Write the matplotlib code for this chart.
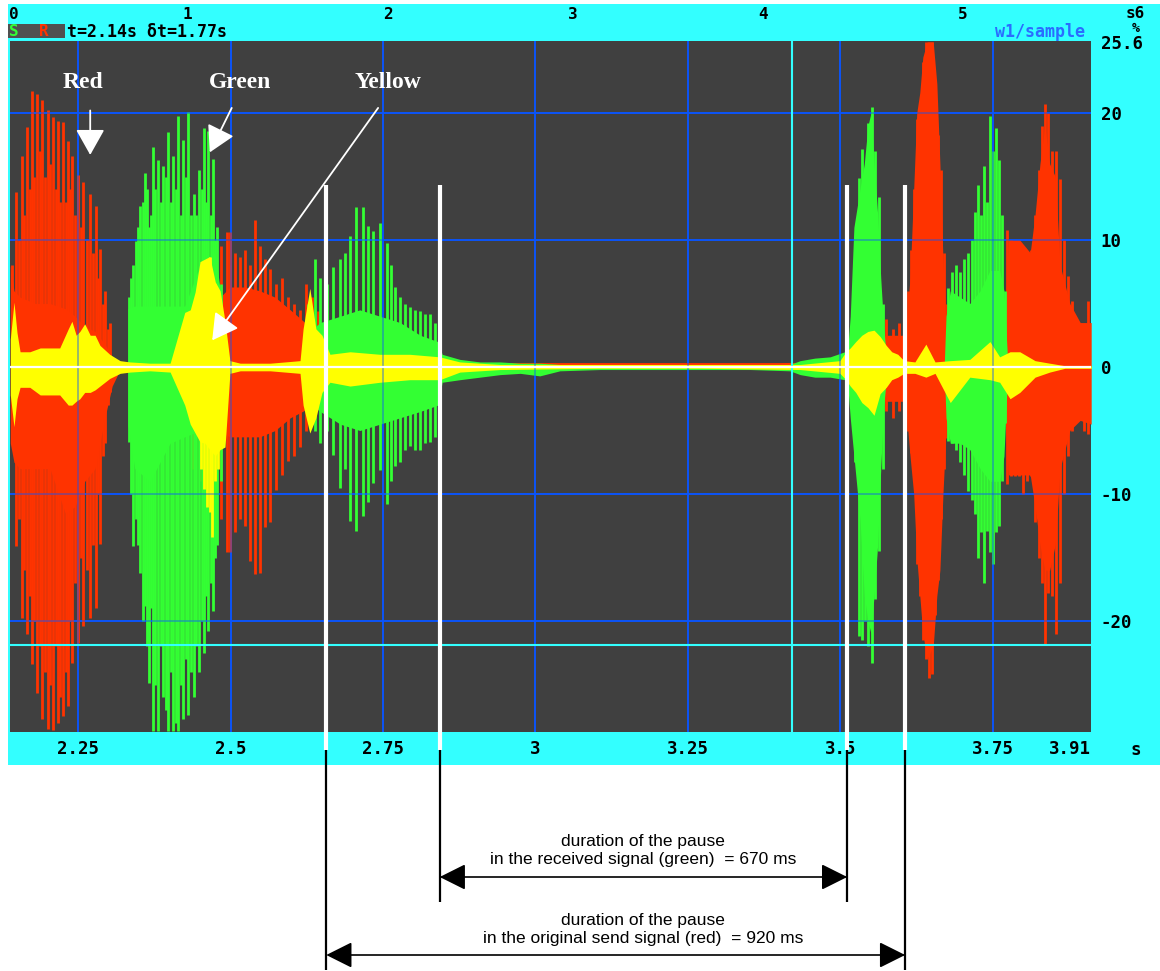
import matplotlib.pyplot as plt
from matplotlib.patches import Rectangle, ArrowStyle

# red = sent signal, green = received, yellow = residual (values in %)
red_t = [2.142, 2.148, 2.153, 2.158, 2.161, 2.166, 2.171, 2.175, 2.178, 2.183,
         2.188, 2.191, 2.196, 2.201, 2.204, 2.209, 2.214, 2.217, 2.220, 2.225,
         2.230, 2.234, 2.237, 2.240, 2.245, 2.250, 2.255, 2.258, 2.265, 2.270,
         2.275, 2.280, 2.283, 2.286, 2.291, 2.294, 2.299, 2.302,
         2.439, 2.450, 2.463, 2.475, 2.484, 2.494, 2.499, 2.507, 2.516, 2.524,
         2.532, 2.540, 2.548, 2.557, 2.565, 2.575, 2.584, 2.594, 2.604, 2.614,
         2.624, 2.634, 2.643,
         3.575, 3.586, 3.596,
         3.611, 3.616, 3.621, 3.625, 3.630, 3.635, 3.640, 3.645, 3.650, 3.655,
         3.660, 3.665, 3.670, 3.675,
         3.773, 3.780, 3.786, 3.793, 3.799, 3.806, 3.812, 3.819, 3.825, 3.830,
         3.835, 3.840, 3.847, 3.853, 3.860, 3.866, 3.873, 3.880, 3.886, 3.893,
         3.899, 3.906]
red_hi = [8, 13.8, 10, 16.6, 12, 18.9, 14, 21.7, 15, 21.5,
          17, 21.0, 15, 20.2, 16, 19.7, 14, 19.4, 13, 19.3,
          13, 17.8, 14, 16.6, 12, 15.1, 11, 14.6, 10, 13.6,
          9, 12.7, 7, 9.3, 5, 6, 3, 3.5,
          5, 6, 7, 8.5, 9.5, 10.6, 10.6, 9, 8.7, 9.2,
          8, 11.6, 9.5, 8.5, 7.7, 6.5, 7, 5.5, 5, 4.5,
          6.5, 5.5, 4.4,
          3.8, 3, 3.5,
          6, 9.2, 14, 19.5, 19.5, 24, 25.6, 25.6, 25.6, 22,
          18.3, 15.5, 9, 5,
          10.8, 10, 9.5, 9.2, 9.2, 8.5, 9.2, 12, 15.5, 19,
          20.7, 20, 17, 17, 14.8, 10, 7.2, 5.2, 3.4, 3.4,
          3.4, 5.2]
red_lo = [-6, -14.1, -12, -19.8, -16, -21, -18, -23.4, -20, -25.7,
          -22, -27.7, -24, -28.5, -25, -28.6, -22, -28, -26, -27.5,
          -24, -26.7, -20, -23.3, -17, -21.7, -15, -20.4, -16, -19.8,
          -14, -19, -10, -13.9, -7, -6, -3, -2,
          -8, -9, -10, -12, -12, -14.6, -14.6, -13, -12, -12.5,
          -15.3, -16.3, -16.2, -12.6, -12.2, -9.7, -8.5, -7.4, -7, -6.3,
          -5, -4.5, -3,
          -3.5, -4, -3.5,
          -5, -6.8, -7.8, -15.5, -18, -21.5, -23, -24.5, -24.2, -19.5,
          -16.8, -12, -8, -5.6,
          -9.2, -8.6, -8.6, -8.6, -10, -9, -8.6, -12.2, -15, -17,
          -21.8, -17.8, -18, -21, -17, -10, -7, -5, -4.2, -4.2,
          -5, -5.3]

red_body_t = [2.139, 2.145, 2.155, 2.180, 2.204, 2.229, 2.245, 2.261, 2.278, 2.294,
              2.306, 2.316, 2.327, 2.425, 2.434, 2.499, 2.524, 2.548, 2.573, 2.598,
              2.622, 2.650, 2.657, 2.700, 2.850, 3.000, 3.200, 3.400, 3.500, 3.557,
              3.573, 3.589, 3.602,
              3.607, 3.614, 3.620, 3.625, 3.630, 3.635, 3.642, 3.652, 3.658, 3.663,
              3.668, 3.673, 3.679,
              3.700, 3.760,
              3.770, 3.775, 3.794, 3.811, 3.819, 3.827, 3.835, 3.843, 3.852, 3.860,
              3.876, 3.893, 3.911]
red_body_hi = [8, 6, 5.5, 5, 5, 4.6, 4, 3.2, 2.8, 1.8,
               0.8, 0.3, 0.2, 0.2, 3, 6.3, 6.3, 6.0, 5.5, 4.5,
               3.5, 2.5, 0.3, 0.3, 0.35, 0.35, 0.35, 0.35, 0.4, 1.5,
               2.5, 2.5, 2.5,
               3, 7, 14, 20, 21.6, 24.4, 25.6, 25.6, 22.3, 16,
               8.5, 3, 1,
               1, 2,
               4, 10, 10, 9, 12, 16, 19, 16, 15, 8,
               5, 3.5, 3.5]
red_body_lo = [-6, -7.5, -8, -8, -8, -11.5, -11, -9, -8, -4,
               -1.5, -0.5, -0.2, -0.2, -4, -5.5, -5.5, -5.5, -5, -4,
               -3.4, -2.5, -0.3, -0.1, -0.1, -0.1, -0.1, -0.1, -0.3, -1.5,
               -2.7, -2.7, -2.7,
               -3, -7, -10, -15, -18, -21, -23, -22, -18, -16,
               -10, -5, -1,
               -1, -2,
               -4, -8.5, -8.5, -8.5, -11, -14, -16, -16, -14, -8,
               -5, -4.2, -4.5]

green_t = [2.334, 2.337, 2.340, 2.345, 2.348, 2.352, 2.357, 2.360, 2.363, 2.366,
           2.370, 2.373, 2.377, 2.381, 2.386, 2.389, 2.394, 2.398, 2.402, 2.406,
           2.411, 2.414, 2.419, 2.422, 2.427, 2.430, 2.435, 2.440, 2.443, 2.448,
           2.453, 2.457, 2.460, 2.463, 2.468, 2.471, 2.475, 2.478, 2.484,
           2.627, 2.639, 2.647, 2.658, 2.668, 2.680, 2.688, 2.696, 2.706, 2.717,
           2.725, 2.734, 2.745, 2.757, 2.763, 2.770, 2.778, 2.786, 2.794, 2.802,
           2.811, 2.819, 2.827, 2.835,
           3.519, 3.524, 3.530, 3.535, 3.540, 3.545, 3.552, 3.557, 3.563, 3.570,
           3.676, 3.683, 3.689, 3.696, 3.702, 3.709, 3.716, 3.720, 3.725, 3.730,
           3.735, 3.740, 3.745, 3.750, 3.755, 3.760, 3.765, 3.770]
green_hi = [5.5, 7, 8, 9.9, 11, 12.7, 13, 15.3, 14, 11,
            12, 17.3, 14, 16.3, 13, 15.8, 15, 18.5, 13, 16.6,
            14, 19.8, 12, 17.9, 15, 20.1, 12, 13.6, 12, 15.5,
            14, 18.8, 13, 18.6, 12, 16.4, 10, 11, 6.5,
            5, 8.5, 7, 6.5, 7.9, 8.5, 9, 10.3, 12.6, 12.6,
            11.1, 10.7, 11.3, 9.8, 8, 6.3, 5.5, 5, 4.7, 4.5,
            4.4, 4.2, 4.2, 3.5,
            4.2, 9, 14.9, 17.2, 15, 19.2, 20.5, 17, 13.4, 5,
            6.2, 7.5, 8, 7.5, 8.5, 9, 10, 12.2, 14.3, 12,
            15.8, 13, 19.8, 17, 18.8, 16.3, 12, 6]
green_lo = [-5.9, -10, -14.1, -12, -14, -16.2, -20, -18.8, -22, -24.9,
            -19, -28.7, -25, -28.7, -22, -26, -27, -28.7, -24, -28.7,
            -28, -28.7, -25, -27.7, -23, -27.4, -24, -26, -22, -24,
            -20, -22.5, -18, -20.8, -17, -19.2, -15, -14, -9,
            -4, -5, -6, -5, -6.9, -9.5, -8, -12.1, -12.9, -11.7,
            -10.6, -9.1, -8.1, -10.8, -9, -7.8, -7.5, -6.5, -6.2, -6.5,
            -6.5, -6, -5.9, -5.5,
            -4.2, -7.5, -21.2, -21.5, -20, -22, -23.3, -18.3, -14.5, -8,
            -5.8, -6, -6.5, -7.5, -8.5, -9.8, -10.5, -11.6, -15, -13,
            -17, -12.9, -14.6, -15.5, -13, -12.5, -9, -4.4]

green_body_t = [2.332, 2.343, 2.368, 2.401, 2.425, 2.450, 2.475, 2.486, 2.493, 2.496,
                2.619, 2.622, 2.647, 2.680, 2.712, 2.745, 2.778, 2.811, 2.840, 2.847,
                2.876, 2.909, 2.942, 2.975, 3.007, 3.040, 3.106, 3.188, 3.270, 3.352,
                3.417, 3.434, 3.458, 3.483, 3.507,
                3.512, 3.516, 3.522, 3.532, 3.539, 3.545, 3.550, 3.555, 3.561, 3.566,
                3.571, 3.576, 3.580,
                3.670, 3.673, 3.680, 3.696, 3.712, 3.729, 3.745, 3.761, 3.768, 3.774,
                3.778]
green_body_hi = [4.6, 4.8, 4.8, 4.8, 4.8, 8, 9, 5, 0.3, 0,
                 0, 2.5, 3.5, 4, 4.5, 4, 3.5, 2.5, 2, 1,
                 0.6, 0.4, 0.4, 0.3, 0.3, 0.2, 0.1, 0.1, 0.1, 0.1,
                 0.2, 0.5, 0.7, 0.8, 1.2,
                 1.5, 4, 11, 14, 16, 19, 20, 16, 12, 7,
                 3, 0.5, 0,
                 0, 4, 6, 5.5, 5, 6, 7.6, 7.6, 6, 0.5,
                 0]
green_body_lo = [-4.6, -8, -9, -6, -5.5, -5, -5, -4, -0.3, 0,
                 0, -2.5, -3.5, -4.5, -5, -4.5, -4, -3.5, -3, -1.2,
                 -1.0, -0.8, -0.6, -0.5, -0.7, -0.3, -0.2, -0.2, -0.2, -0.2,
                 -0.3, -0.6, -0.8, -0.8, -1,
                 -1.5, -4, -7, -12, -18, -20, -21, -18, -14, -8,
                 -3, -0.5, 0,
                 0, -4, -6, -6, -6.5, -8, -9, -9, -7, -0.5,
                 0]

yellow_t = [2.139, 2.145, 2.150, 2.155, 2.171, 2.188, 2.204, 2.220, 2.234, 2.240,
            2.247, 2.253, 2.261, 2.270, 2.278, 2.286, 2.302, 2.319, 2.335, 2.368,
            2.401, 2.425, 2.434, 2.442, 2.450, 2.458, 2.466, 2.475, 2.483, 2.491,
            2.499, 2.516, 2.565, 2.614, 2.619, 2.630, 2.640, 2.650, 2.663, 2.696,
            2.745, 2.794, 2.843, 2.876, 2.942, 3.106, 3.270, 3.434, 3.499, 3.509,
            3.516, 3.525, 3.535, 3.545, 3.555, 3.565, 3.575, 3.584, 3.594, 3.604,
            3.622, 3.640, 3.655, 3.680, 3.712, 3.745, 3.761, 3.778, 3.794, 3.819,
            3.843, 3.868, 3.911]
yellow_hi = [2.2, 5.1, 2.7, 1.2, 1.2, 1.5, 1.5, 1.5, 3, 3.6,
             2.5, 2.8, 3.4, 2.5, 2.5, 1.7, 1, 0.5, 0.4, 0.3,
             0.3, 4.3, 4.5, 5.9, 8.3, 8.5, 8.7, 6.7, 6, 3.6,
             0.5, 0.3, 0.3, 0.5, 3, 6.2, 3, 2.5, 1, 1.2,
             1, 1, 0.8, 0.4, 0.2, 0.2, 0.2, 0.2, 0.5, 1.2,
             1.5, 2, 2.5, 2.8, 2.9, 2.4, 1.7, 1.2, 1, 0.5,
             0.4, 1.8, 0.4, 0.5, 0.6, 2, 0.8, 1.2, 1.2, 0.5,
             0.3, 0.1, 0.1]
yellow_lo = [-2.2, -4.7, -2.5, -1.6, -1.6, -2.2, -2.2, -2.2, -3, -3,
             -2.7, -2.5, -2, -2, -1.8, -1.5, -0.9, -0.5, -0.4, -0.3,
             -0.4, -3, -4.5, -5.2, -5.9, -6, -6.5, -7, -6.5, -6.3,
             -0.5, -0.3, -0.3, -0.5, -3, -5.2, -4, -2, -1.2, -1.5,
             -1.2, -1, -1, -0.4, -0.2, -0.1, -0.1, -0.2, -0.5, -1,
             -1.5, -2, -2.8, -3.2, -3.8, -2.1, -1.6, -1, -0.8, -0.5,
             -0.5, -0.8, -0.5, -2.8, -0.8, -1, -1.2, -2.5, -2, -0.8,
             -0.4, -0.1, -0.1]
yellow_spk_t = [2.452, 2.456, 2.461, 2.466, 2.470, 2.474, 2.479]
yellow_spk_hi = [7.5, 8, 8.5, 8.7, 7, 6.5, 6]
yellow_spk_lo = [-8, -9.6, -11, -11.4, -13.4, -9, -8]

x_ticks = [2.25, 2.5, 2.75, 3.0, 3.25, 3.5, 3.75, 3.91]
x_labels = ['2.25', '2.5', '2.75', '3', '3.25', '3.5', '3.75', '3.91']
y_ticks = [-20, -10, 0, 10, 20, 25.6]
y_labels = ['-20', '-10', '0', '10', '20', '25.6']
top_t = [2.145, 2.430, 2.758, 3.061, 3.373, 3.701]
top_labels = ['0', '1', '2', '3', '4', '5']

pause_green = [2.843, 3.511]   # start/end of pause in received signal
pause_red = [2.657, 3.606]     # start/end of pause in sent signal
cursor_t = 3.42
cursor_v = -21.9

CYAN = '#33ffff'
GRAY = '#404040'
RED = '#ff3300'
GREEN = '#33ff33'
YELLOW = '#ffff00'
BLUE = '#0a55ff'
MONO = dict(family='DejaVu Sans Mono', weight='bold')

W, H = 1160, 971
fig = plt.figure(figsize=(W / 100, H / 100), dpi=100)
fig.patch.set_facecolor('white')
fig.add_artist(Rectangle((8 / W, 1 - 765 / H), 1152 / W, 761 / H,
                         transform=fig.transFigure, facecolor=CYAN,
                         edgecolor='none', zorder=-5))

ax = fig.add_axes([10 / W, 1 - 732 / H, 1081 / W, 691 / H])
ax.set_facecolor(GRAY)
ax.set_xlim(2.1385, 3.9107)
ax.set_ylim(-28.74, 25.67)
for s in ax.spines.values():
    s.set_visible(False)


def ay(py):
    # pixel row -> axes fraction (for things below the plot)
    return (732 - py) / 691


# grid under the signal
for t in x_ticks[:-1]:
    ax.axvline(t, color=BLUE, lw=1.3, zorder=1)
for v in [-20, -10, 10, 20]:
    ax.axhline(v, color=BLUE, lw=1.3, zorder=1)

ax.fill_between(red_body_t, red_body_lo, red_body_hi, color=RED, lw=0, zorder=2)
ax.vlines(red_t, red_lo, red_hi, color=RED, lw=2.0, zorder=2)
ax.fill_between(green_body_t, green_body_lo, green_body_hi, color=GREEN, lw=0, zorder=3)
ax.vlines(green_t, green_lo, green_hi, color=GREEN, lw=2.0, zorder=3)
ax.fill_between(yellow_t, yellow_lo, yellow_hi, color=YELLOW, lw=0, zorder=4)
ax.vlines(yellow_spk_t, yellow_spk_lo, yellow_spk_hi, color=YELLOW, lw=2.0, zorder=4)

# grid again, faint, on top (like the scope's overlay)
for t in x_ticks[:-1]:
    ax.axvline(t, color=BLUE, lw=1.3, alpha=0.45, zorder=5)
for v in [-20, -10, 10, 20]:
    ax.axhline(v, color=BLUE, lw=1.3, alpha=0.45, zorder=5)
ax.axvline(cursor_t, color=CYAN, lw=1.5, zorder=5)
ax.axhline(cursor_v, color=CYAN, lw=1.5, zorder=5)
ax.axhline(0, color='white', lw=1.6, zorder=6)

# pause markers
all_marks = pause_red[:1] + pause_green + pause_red[1:]
ax.vlines(all_marks, -28.74, 14.3, color='white', lw=3, zorder=7)
xt = ax.get_xaxis_transform()
ax.vlines(all_marks, ay(750), 0, color='white', lw=3, transform=xt, clip_on=False, zorder=7)
ax.vlines(pause_red, ay(750), ay(970), color='black', lw=1.6, transform=xt, clip_on=False)
ax.vlines(pause_green, ay(750), ay(902), color='black', lw=1.6, transform=xt, clip_on=False)

head = ArrowStyle('<|-|>', head_length=0.9, head_width=0.45)
ax.annotate('', xy=(pause_green[1], ay(877)), xytext=(pause_green[0], ay(877)),
            xycoords=xt, textcoords=xt, annotation_clip=False,
            arrowprops=dict(arrowstyle=head, color='black', lw=1.2,
                            mutation_scale=18, shrinkA=0, shrinkB=0))
ax.annotate('', xy=(pause_red[1], ay(955)), xytext=(pause_red[0], ay(955)),
            xycoords=xt, textcoords=xt, annotation_clip=False,
            arrowprops=dict(arrowstyle=head, color='black', lw=1.2,
                            mutation_scale=18, shrinkA=0, shrinkB=0))
note_font = dict(family=['Liberation Sans Narrow', 'Liberation Sans'], size=12.5)
ax.text(3.176, ay(850), 'duration of the pause\nin the received signal (green)  = 670 ms',
        transform=xt, ha='center', va='center', linespacing=1.25, **note_font)
ax.text(3.176, ay(929), 'duration of the pause\nin the original send signal (red)  = 920 ms',
        transform=xt, ha='center', va='center', linespacing=1.25, **note_font)

# labels inside the plot
lab_font = dict(family='Liberation Serif', weight='bold', size=17, color='white')
ax.text(2.258, 22.4, 'Red', ha='center', va='center', zorder=8, **lab_font)
ax.text(2.516, 22.4, 'Green', ha='center', va='center', zorder=8, **lab_font)
ax.text(2.758, 22.4, 'Yellow', ha='center', va='center', zorder=8, **lab_font)
wa = ArrowStyle('-|>', head_length=0.8, head_width=0.45)
for (x0, y0), (x1, y1) in [((2.270, 20.2), (2.270, 16.7)),
                           ((2.502, 20.4), (2.466, 16.9)),
                           ((2.742, 20.4), (2.470, 2.1))]:
    ax.annotate('', xy=(x1, y1), xytext=(x0, y0), zorder=8,
                arrowprops=dict(arrowstyle=wa, color='white', lw=1.3,
                                mutation_scale=20, shrinkA=0, shrinkB=0))

# axes ticks
ax.set_xticks(x_ticks, x_labels, **MONO, size=12.5)
ax.get_xticklabels()[-1].set_horizontalalignment('right')
ax.tick_params(axis='x', length=0, pad=6)
ax.yaxis.tick_right()
ax.set_yticks(y_ticks, y_labels, **MONO, size=12.5)
ax.tick_params(axis='y', length=0, pad=7)

ax2 = ax.twiny()
ax2.set_xlim(ax.get_xlim())
ax2.set_xticks(top_t, top_labels, **MONO, size=11.5)
ax2.tick_params(axis='x', length=0, pad=14)
for s in ax2.spines.values():
    s.set_visible(False)

# header row
fig.add_artist(Rectangle((8 / W, 1 - 38 / H), 57 / W, 14 / H, transform=fig.transFigure,
                         facecolor='#505050', edgecolor='none'))
fig.text(14 / W, 1 - 31 / H, 'S', color=GREEN, ha='center', va='center', **MONO, size=11.5)
fig.text(44 / W, 1 - 31 / H, 'R', color=RED, ha='center', va='center', **MONO, size=11.5)
fig.text(67 / W, 1 - 32 / H, 't=2.14s δt=1.77s', ha='left', va='center', **MONO, size=12)
fig.text(1085 / W, 1 - 32 / H, 'w1/sample', color='#2a6cff', ha='right', va='center',
         **MONO, size=12)
fig.text(1145 / W, 1 - 14 / H, 's6', ha='right', va='center', **MONO, size=11.5)
fig.text(1136 / W, 1 - 29 / H, '%', ha='center', va='center', **MONO, size=9.5)
fig.text(1136 / W, 1 - 750 / H, 's', ha='center', va='center', **MONO, size=12.5)

fig.savefig('out.png', dpi=100)
